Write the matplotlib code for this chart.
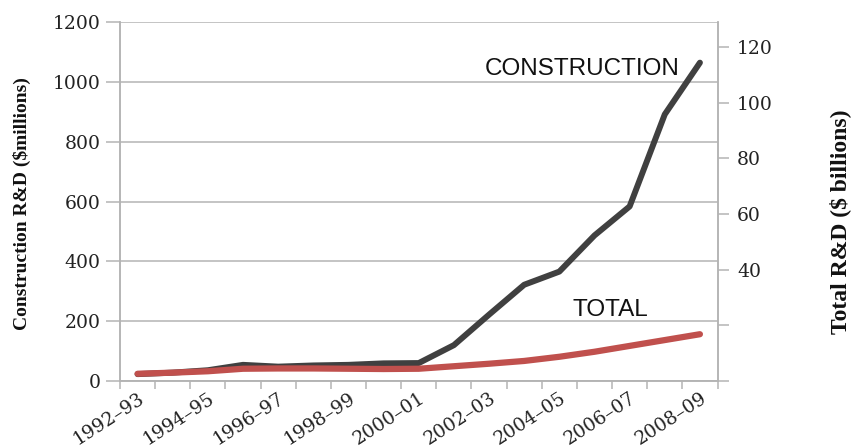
import matplotlib.pyplot as plt
import numpy as np

years = ['1992–93', '1993–94', '1994–95', '1995–96', '1996–97', '1997–98',
         '1998–99', '1999–00', '2000–01', '2001–02', '2002–03', '2003–04',
         '2004–05', '2005–06', '2006–07', '2007–08', '2008–09']
construction = [23, 28, 36, 54, 48, 52, 54, 59, 60, 120, 222, 322, 366, 487, 584, 892, 1065]
total = [2.6, 3.0, 3.5, 4.4, 4.5, 4.5, 4.4, 4.3, 4.4, 5.3, 6.2, 7.2, 8.7, 10.5, 12.6, 14.7, 16.8]

left_ticks = [0, 200, 400, 600, 800, 1000, 1200]
right_ticks = [0, 20, 40, 60, 80, 100, 120]
right_labels = ['', '', '40', '60', '80', '100', '120']

fig = plt.figure(figsize=(8.52, 4.48), dpi=100)
ax = fig.add_axes([120/852, 1-381/448, (717.5-120)/852, (381-22.3)/448])
ax2 = ax.twinx()

x = np.arange(len(years))
ax.plot(x, construction, color='#404040', lw=4.3, solid_capstyle='round',
        solid_joinstyle='round', zorder=3)
ax2.plot(x, total, color='#C0504D', lw=4.5, solid_capstyle='round',
         solid_joinstyle='round', zorder=3)

grid_c = '#B4B4B4'
ax.set_ylim(0, 1200)
ax.set_yticks(left_ticks)
ax.set_yticklabels([str(v) for v in left_ticks])
ax.yaxis.grid(True, color=grid_c, lw=1.1)
ax.set_axisbelow(True)
ax.set_xlim(-0.5, len(years) - 0.5)

ax2.set_ylim(0, 128.8)
ax2.set_yticks(right_ticks)
ax2.set_yticklabels(right_labels)

for a in (ax, ax2):
    for s in a.spines.values():
        s.set_color(grid_c)
        s.set_linewidth(1.1)
    a.spines['top'].set_visible(False)

serif = ['DejaVu Serif']
ax.tick_params(axis='y', length=10, width=1.1, color=grid_c, pad=4,
               labelsize=13.5, labelcolor='#222222')
ax2.tick_params(axis='y', length=8, width=1.1, color=grid_c, pad=6,
                labelsize=13.5, labelcolor='#222222')
for lab in ax.get_yticklabels() + ax2.get_yticklabels():
    lab.set_family(serif)

ax.set_xticks(x[::2])
ax.set_xticklabels(years[::2])
ax.set_xticks(np.arange(-0.5, len(years), 1), minor=True)
ax.tick_params(axis='x', which='major', length=0, pad=6, labelsize=13.5,
               labelcolor='#222222')
ax.tick_params(axis='x', which='minor', length=6, width=1.1, color=grid_c)
for lab in ax.get_xticklabels():
    lab.set_family(serif)
    lab.set_rotation(33)
    lab.set_ha('right')
    lab.set_va('top')
    lab.set_rotation_mode('anchor')

fig.text(22/852, 1-204/448, 'Construction R&D ($millions)', rotation=90,
         ha='center', va='center', fontsize=14, fontweight='bold',
         family=['Liberation Serif'], color='#111111')
fig.text(840/852, 1-222/448, 'Total R&D ($ billions)', rotation=90,
         ha='center', va='center', fontsize=17, fontweight='bold',
         family=['Liberation Serif'], color='#111111')

fig.text(582/852, 1-69/448, 'CONSTRUCTION', fontsize=17.5,
         family=['Liberation Sans'], ha='center', va='center', color='#111111')
fig.text(610/852, 1-310/448, 'TOTAL', fontsize=17.5,
         family=['Liberation Sans'], ha='center', va='center', color='#111111')

fig.savefig('out.png', dpi=100)
